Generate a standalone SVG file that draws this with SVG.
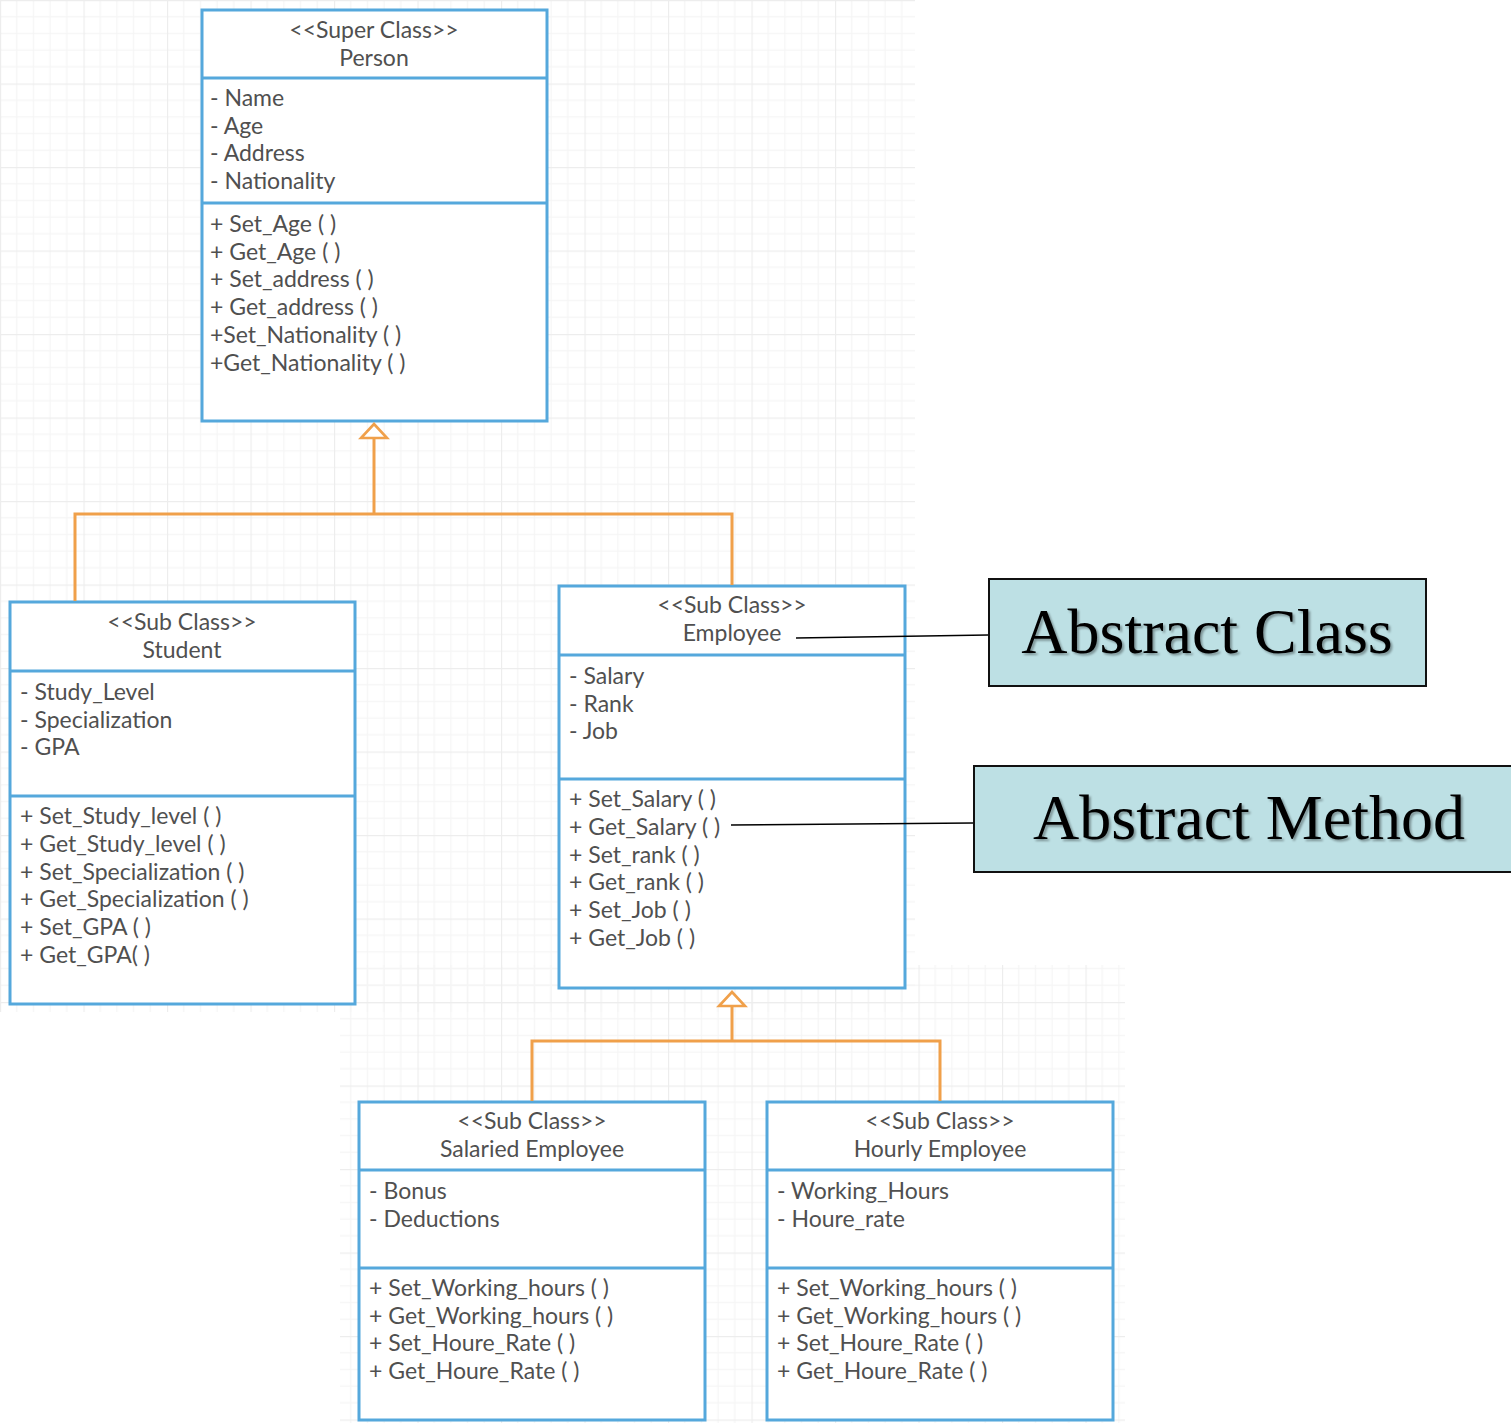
<svg xmlns="http://www.w3.org/2000/svg" width="1511" height="1423" viewBox="0 0 1511 1423">
  <defs>
    <pattern id="grid" width="83.5" height="83.5" patternUnits="userSpaceOnUse">
      <path d="M16.7 0V83.5M33.4 0V83.5M50.1 0V83.5M66.8 0V83.5M0 16.7H83.5M0 33.4H83.5M0 50.1H83.5M0 66.8H83.5" stroke="#f5f5f5" stroke-width="1.2" fill="none"/>
      <path d="M0.5 0V83.5M0 0.5H83.5" stroke="#ededed" stroke-width="1.4" fill="none"/>
    </pattern>
    <filter id="shadow" x="-5%" y="-20%" width="110%" height="140%">
      <feDropShadow dx="2" dy="2" stdDeviation="1.2" flood-color="#000" flood-opacity="0.35"/>
    </filter>
    <style>
      .box { fill: #fff; stroke: #55a8dc; stroke-width: 3; }
      .div { stroke: #55a8dc; stroke-width: 3; fill: none; }
      .t { font-family: Lato, "Liberation Sans", sans-serif; font-size: 23px; fill: #505050; }
      .c { text-anchor: middle; }
      .edge { stroke: #f0a04a; stroke-width: 3; fill: none; }
      .head { fill: #fff; stroke: #f0a04a; stroke-width: 2.6; }
      .lead { stroke: #000; stroke-width: 1.6; fill: none; }
      .note { fill: #bde0e4; stroke: #111; stroke-width: 2; }
      .nt { font-family: "Liberation Serif", "Times New Roman", serif; font-size: 64px; fill: #000; text-anchor: middle; filter: url(#shadow); }
    </style>
  </defs>

  <rect width="1511" height="1423" fill="#fff"/>
  <!-- canvas grids -->
  <rect x="0" y="0" width="915" height="1012" fill="url(#grid)"/>
  <rect x="340" y="965" width="785" height="458" fill="url(#grid)"/>

  <g id="person">
    <rect class="box" x="202" y="10" width="345" height="411"/>
    <path class="div" d="M202 78 H547 M202 203 H547"/>
    <text class="t c" x="374" y="38">&lt;&lt;Super Class&gt;&gt;</text>
    <text class="t c" x="374" y="66">Person</text>
    <text class="t" x="210" y="106">- Name</text>
    <text class="t" x="210" y="134">- Age</text>
    <text class="t" x="210" y="161">- Address</text>
    <text class="t" x="210" y="189">- Nationality</text>
    <text class="t" x="210" y="232">+ Set_Age ( )</text>
    <text class="t" x="210" y="260">+ Get_Age ( )</text>
    <text class="t" x="210" y="287">+ Set_address (  )</text>
    <text class="t" x="210" y="315">+ Get_address (  )</text>
    <text class="t" x="210" y="343">+Set_Nationality ( )</text>
    <text class="t" x="210" y="371">+Get_Nationality ( )</text>
  </g>

  <g id="student">
    <rect class="box" x="10" y="602" width="345" height="402"/>
    <path class="div" d="M10 671 H355 M10 796 H355"/>
    <text class="t c" x="182" y="630">&lt;&lt;Sub Class&gt;&gt;</text>
    <text class="t c" x="182" y="658">Student</text>
    <text class="t" x="20" y="700">- Study_Level</text>
    <text class="t" x="20" y="728">- Specialization</text>
    <text class="t" x="20" y="755">- GPA</text>
    <text class="t" x="20" y="824">+ Set_Study_level ( )</text>
    <text class="t" x="20" y="852">+ Get_Study_level (  )</text>
    <text class="t" x="20" y="880">+ Set_Specialization ( )</text>
    <text class="t" x="20" y="907">+ Get_Specialization ( )</text>
    <text class="t" x="20" y="935">+ Set_GPA ( )</text>
    <text class="t" x="20" y="963">+ Get_GPA( )</text>
  </g>

  <g id="employee">
    <rect class="box" x="559" y="586" width="346" height="402"/>
    <path class="div" d="M559 655 H905 M559 779 H905"/>
    <text class="t c" x="732" y="613">&lt;&lt;Sub Class&gt;&gt;</text>
    <text class="t c" x="732" y="641">Employee</text>
    <text class="t" x="569" y="684">- Salary</text>
    <text class="t" x="569" y="712">- Rank</text>
    <text class="t" x="569" y="739">- Job</text>
    <text class="t" x="569" y="807">+ Set_Salary ( )</text>
    <text class="t" x="569" y="835">+ Get_Salary ( )</text>
    <text class="t" x="569" y="863">+ Set_rank ( )</text>
    <text class="t" x="569" y="890">+ Get_rank ( )</text>
    <text class="t" x="569" y="918">+ Set_Job ( )</text>
    <text class="t" x="569" y="946">+ Get_Job ( )</text>
  </g>

  <g id="salaried-employee">
    <rect class="box" x="359" y="1102" width="346" height="318"/>
    <path class="div" d="M359 1170 H705 M359 1268 H705"/>
    <text class="t c" x="532" y="1129">&lt;&lt;Sub Class&gt;&gt;</text>
    <text class="t c" x="532" y="1157">Salaried Employee</text>
    <text class="t" x="369" y="1199">- Bonus</text>
    <text class="t" x="369" y="1227">- Deductions</text>
    <text class="t" x="369" y="1296">+ Set_Working_hours ( )</text>
    <text class="t" x="369" y="1324">+ Get_Working_hours ( )</text>
    <text class="t" x="369" y="1351">+ Set_Houre_Rate ( )</text>
    <text class="t" x="369" y="1379">+ Get_Houre_Rate ( )</text>
  </g>

  <g id="hourly-employee">
    <rect class="box" x="767" y="1102" width="346" height="318"/>
    <path class="div" d="M767 1170 H1113 M767 1268 H1113"/>
    <text class="t c" x="940" y="1129">&lt;&lt;Sub Class&gt;&gt;</text>
    <text class="t c" x="940" y="1157">Hourly Employee</text>
    <text class="t" x="777" y="1199">- Working_Hours</text>
    <text class="t" x="777" y="1227">- Houre_rate</text>
    <text class="t" x="777" y="1296">+ Set_Working_hours ( )</text>
    <text class="t" x="777" y="1324">+ Get_Working_hours ( )</text>
    <text class="t" x="777" y="1351">+ Set_Houre_Rate ( )</text>
    <text class="t" x="777" y="1379">+ Get_Houre_Rate ( )</text>
  </g>

  <g id="abstract-class-note">
    <rect class="note" x="989" y="579" width="437" height="107"/>
    <text class="nt" x="1207" y="653">Abstract Class</text>
  </g>

  <g id="abstract-method-note">
    <rect class="note" x="974" y="766" width="545" height="106"/>
    <text class="nt" x="1249" y="839">Abstract Method</text>
  </g>

  <!-- generalization connectors and note leaders, drawn over the boxes -->
  <g id="connectors">
    <path class="edge" d="M75 601 V514 H732 V585"/>
    <path class="edge" d="M374 514 V437"/>
    <path class="head" d="M374 424 L387 438 L361 438 Z"/>
    <path class="edge" d="M532 1101 V1041 H940 V1101"/>
    <path class="edge" d="M732 1041 V1006"/>
    <path class="head" d="M732 992 L745 1006 L719 1006 Z"/>
    <path class="lead" d="M796 638 L988 635"/>
    <path class="lead" d="M731 825 L973 823"/>
  </g>
</svg>
